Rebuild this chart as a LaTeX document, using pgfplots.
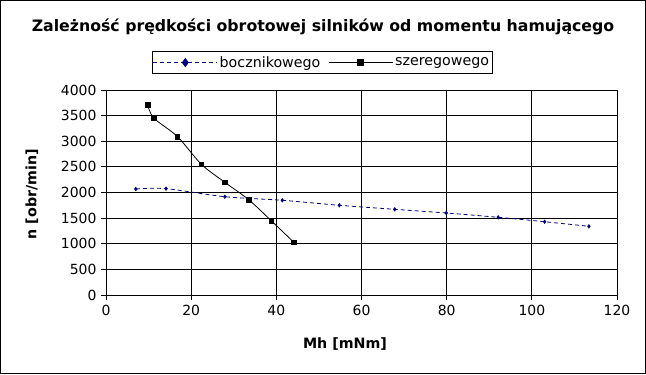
\documentclass[border=0pt]{standalone}
\usepackage{pgfplots}
\pgfplotsset{compat=1.18}
\usepackage{fontspec}
\setmainfont{DejaVu Sans}
\definecolor{navy}{RGB}{0,0,128}
\pgfplotstableread{
x y
7.0 2068
14.1 2075
27.9 1918
41.4 1848
54.8 1750
67.8 1672
79.9 1600
92.1 1516
103.0 1430
113.4 1340
}\bocznikowe
\pgfplotstableread{
x y
9.8 3713
11.2 3454
16.8 3089
22.4 2550
27.9 2199
33.5 1860
38.8 1450
44.1 1028
}\szeregowe
\begin{document}
\begin{tikzpicture}[x=1bp,y=1bp]
\draw[black, line width=1bp] (0.5,0.5) rectangle (645.5,373.5);
\node[font=\bfseries\fontsize{15.8}{18}\selectfont] at (323,347) {Zależność prędkości obrotowej silników od momentu hamującego};
\node[font=\bfseries\fontsize{14.3}{16}\selectfont, rotate=90] at (32,180) {n [obr/min]};
\node[font=\bfseries\fontsize{14.3}{16}\selectfont] at (345,30) {Mh [mNm]};
\begin{axis}[at={(106bp,79bp)}, anchor=south west, scale only axis,
  width=511bp, height=205bp,
  xmin=0, xmax=120, ymin=0, ymax=4000,
  xtick={0,20,...,120}, ytick={0,500,...,4000},
  grid=major, grid style={black, line width=0.8bp},
  axis line style={black, line width=0.8bp},
  tick align=outside, major tick length=5bp, tick style={black, line width=0.8bp},
  xtick pos=bottom, ytick pos=left,
  ticklabel style={font=\fontsize{14}{16}\selectfont},
  xticklabel style={yshift=-2bp},
  yticklabel style={xshift=-1bp},
  /pgf/number format/assume math mode=true,
  /pgf/number format/1000 sep={},
  legend columns=2,
  legend style={at={(0.4227,1.134)}, anchor=center, draw=black, line width=0.8bp,
    inner xsep=1bp, inner ysep=3bp,
    nodes={inner sep=2bp},
    font=\fontsize{14.3}{16}\selectfont, /tikz/every even column/.append style={column sep=6bp}},
  legend image code/.code={\draw[mark repeat=2,mark phase=2,#1] plot coordinates {(0bp,0bp) (32bp,0bp) (64bp,0bp)};},
]
\addlegendimage{navy, line width=0.8bp, dash pattern=on 4bp off 3bp, mark=diamond*, mark size=4bp, mark options={solid}}
\addlegendentry{bocznikowego}
\addlegendimage{black, line width=0.8bp, mark=square*, mark size=3bp, mark options={solid}}
\addlegendentry{szeregowego}
\addplot[forget plot, navy, line width=0.8bp, dash pattern=on 4bp off 3bp, smooth, tension=0.5,
  mark=diamond*, mark size=1.6bp, mark options={solid}] table {\bocznikowe};
\addplot[forget plot, black, line width=0.8bp, smooth, tension=0.5,
  mark=square*, mark size=2.3bp] table {\szeregowe};
\end{axis}
\end{tikzpicture}
\end{document}
